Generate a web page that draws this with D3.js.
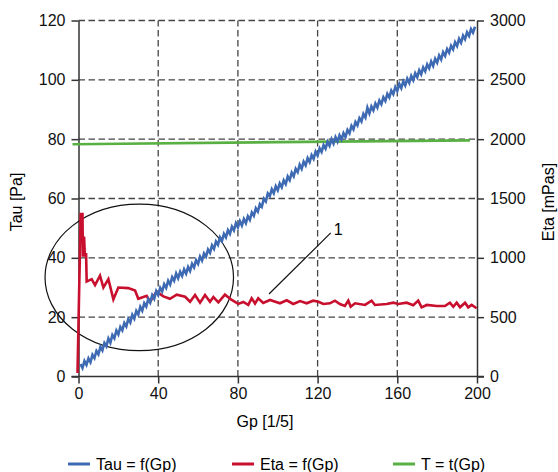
<!DOCTYPE html>
<html>
<head>
<meta charset="utf-8">
<script src="https://cdn.jsdelivr.net/npm/d3@7"></script>
<style>
  body { margin: 0; background: #fff; }
  svg { display: block; font-family: "Liberation Sans", Arial, sans-serif; }
</style>
</head>
<body>
<svg id="chart" width="558" height="472"></svg>
<script>
// Tau [Pa] read at Gp = 1, 2, ..., 199
const tauGp = d3.range(1, 200);
const tauValues = [
  4.2, 2.9, 5.2, 3.9, 6.1, 4.8, 7.3, 6.2, 8.6, 7.5,
  10.0, 8.8, 11.3, 10.2, 12.8, 11.4, 14.0, 12.9, 15.5, 14.2,
  16.7, 15.6, 18.0, 16.9, 19.4, 18.2, 20.8, 19.5, 22.1, 20.9,
  23.5, 22.2, 24.7, 23.6, 26.1, 24.9, 27.4, 26.2, 28.8, 27.5,
  29.9, 28.7, 31.1, 29.9, 32.3, 31.0, 33.5, 32.3, 34.7, 33.1,
  35.3, 33.9, 36.1, 34.7, 36.9, 35.6, 38.0, 36.8, 39.2, 38.0,
  40.4, 39.1, 41.5, 40.4, 42.8, 41.7, 44.2, 43.0, 45.5, 44.4,
  46.9, 45.7, 48.1, 46.9, 49.3, 48.1, 50.5, 49.3, 51.7, 50.3,
  52.4, 50.9, 53.1, 51.7, 54.0, 52.8, 55.3, 54.2, 56.7, 55.6,
  58.1, 57.2, 59.9, 59.0, 61.7, 60.8, 63.1, 61.8, 64.1, 62.8,
  65.1, 63.8, 66.1, 64.9, 67.4, 66.2, 68.7, 67.5, 70.0, 68.9,
  71.4, 70.0, 72.4, 71.2, 73.6, 72.3, 74.6, 73.4, 75.8, 74.5,
  76.9, 75.7, 78.0, 76.8, 79.1, 77.8, 80.0, 78.5, 80.7, 79.2,
  81.3, 79.9, 82.0, 80.7, 83.1, 82.0, 84.5, 83.3, 85.8, 84.7,
  87.1, 86.0, 88.5, 87.3, 90.6, 88.7, 91.0, 89.7, 92.0, 90.7,
  93.0, 91.8, 94.1, 92.9, 95.3, 94.1, 96.4, 95.2, 97.6, 96.3,
  98.6, 97.2, 99.5, 98.1, 100.4, 99.0, 101.3, 99.9, 102.2, 100.9,
  103.2, 101.9, 104.2, 102.9, 105.2, 103.9, 106.2, 104.7, 107.1, 105.8,
  108.2, 106.9, 109.3, 108.1, 110.4, 109.2, 111.5, 110.3, 112.7, 111.4,
  113.8, 112.5, 114.9, 113.7, 116.0, 114.8, 117.1, 115.9, 117.9
];

// Eta [mPas]
const etaGp = [
  -0.5, 1.1, 2.0, 2.2, 2.8, 3.2, 3.8, 4.1, 6.6, 8.3,
  10.8, 12.5, 15.0, 17.5, 20.0, 25.0, 28.4, 30.0, 34.2, 35.9,
  39.2, 42.6, 45.9, 49.3, 53.5, 56.0, 58.5, 61.0, 63.5, 66.0,
  67.7, 70.2, 73.5, 76.9, 80.2, 82.7, 85.2, 86.9, 88.6, 90.2,
  92.7, 96.1, 101.1, 104.5, 107.8, 111.2, 114.5, 117.8, 120.4, 122.9,
  126.2, 128.7, 131.2, 133.7, 135.4, 136.6, 138.8, 143.8, 147.1, 148.8,
  154.7, 158.0, 160.5, 164.7, 168.0, 170.5, 172.2, 174.8, 179.8, 183.9,
  186.4, 188.1, 189.8, 191.5, 194.0, 195.6, 197.3, 199.8
];
const etaValues = [
  30, 1370, 1370, 1010, 1180, 1010, 1040, 800, 820, 770,
  850, 750, 820, 650, 750, 745, 725, 655, 680, 630,
  715, 675, 655, 690, 672, 630, 687, 622, 687, 630,
  670, 625, 690, 645, 612, 628, 603, 659, 615, 659,
  620, 645, 617, 642, 611, 636, 617, 639, 630, 611,
  617, 639, 611, 594, 639, 588, 617, 603, 639, 603,
  611, 622, 611, 622, 600, 639, 583, 603, 594, 594,
  622, 588, 622, 583, 622, 583, 603, 575
];

// T, plotted against the left axis
const tGp = [-3, 100, 196.5];
const tValues = [78.3, 79.0, 79.6];

const xTicks = [0, 40, 80, 120, 160, 200];
const tauTicks = [0, 20, 40, 60, 80, 100, 120];
const etaTicks = [0, 500, 1000, 1500, 2000, 2500, 3000];

const legendItems = ['Tau = f(Gp)', 'Eta = f(Gp)', 'T = t(Gp)'];
const colors = ['#3d6ab3', '#c8102e', '#59b042'];

// annotation, in data units (Gp, Tau)
const ring = { cx: 30.5, cy: 33.4, rx: 47.3, ry: 24.7 };
const pointer = { x1: 95.6, y1: 27.8, x2: 126.6, y2: 48.4, label: '1' };

const svg = d3.select('#chart');
const plot = { left: 78.5, right: 477, top: 20.5, bottom: 376.5 };
const tick = 7;

const x = d3.scaleLinear().domain([0, 200]).range([plot.left, plot.right]);
const y = d3.scaleLinear().domain([0, 120]).range([plot.bottom, plot.top]);
const yEta = d3.scaleLinear().domain([0, 3000]).range([plot.bottom, plot.top]);

// grid
const grid = svg.append('g')
  .attr('stroke', '#444')
  .attr('stroke-width', 1.3)
  .attr('stroke-dasharray', '6.5,3.5');
grid.selectAll('.h')
  .data(tauTicks.filter(d => d > 0))
  .enter().append('line')
  .attr('x1', x(0)).attr('x2', x(200))
  .attr('y1', d => y(d)).attr('y2', d => y(d));
grid.selectAll('.v')
  .data(xTicks.filter(d => d > 0 && d < 200))
  .enter().append('line')
  .attr('x1', d => x(d)).attr('x2', d => x(d))
  .attr('y1', y(0)).attr('y2', y(120));

// axes
const axisStyle = g => {
  g.selectAll('line, path').attr('stroke', '#333').attr('stroke-width', 1.5);
  g.selectAll('text').attr('fill', '#111').style('font-size', '16px');
};

svg.append('g')
  .attr('transform', `translate(${plot.left},0)`)
  .call(d3.axisLeft(y).tickValues(tauTicks).tickSize(tick).tickSizeOuter(0).tickPadding(6))
  .call(axisStyle);

svg.append('g')
  .attr('transform', `translate(${plot.right},0)`)
  .call(d3.axisRight(yEta).tickValues(etaTicks).tickFormat(d3.format('d'))
    .tickSize(tick).tickSizeOuter(0).tickPadding(6))
  .call(axisStyle);

const xAxis = svg.append('g')
  .attr('transform', `translate(0,${plot.bottom})`)
  .call(d3.axisBottom(x).tickValues(xTicks).tickSize(tick).tickSizeOuter(0).tickPadding(4))
  .call(axisStyle);
xAxis.select('.domain').remove();
xAxis.append('line')
  .attr('x1', plot.left - tick).attr('x2', plot.right + tick)
  .attr('stroke', '#333').attr('stroke-width', 1.5);

// axis titles
svg.append('text')
  .attr('transform', 'translate(22,202) rotate(-90)')
  .attr('text-anchor', 'middle')
  .style('font-size', '16px')
  .text('Tau [Pa]');
svg.append('text')
  .attr('transform', 'translate(554,202) rotate(-90)')
  .attr('text-anchor', 'middle')
  .style('font-size', '16px')
  .text('Eta [mPas]');
svg.append('text')
  .attr('x', 265).attr('y', 427)
  .attr('text-anchor', 'middle')
  .style('font-size', '16px')
  .text('Gp [1/5]');

// annotation
svg.append('ellipse')
  .attr('cx', x(ring.cx)).attr('cy', y(ring.cy))
  .attr('rx', x(ring.rx) - x(0)).attr('ry', y(0) - y(ring.ry))
  .attr('fill', 'none').attr('stroke', '#111').attr('stroke-width', 1.2);
svg.append('line')
  .attr('x1', x(pointer.x1)).attr('y1', y(pointer.y1))
  .attr('x2', x(pointer.x2)).attr('y2', y(pointer.y2))
  .attr('stroke', '#111').attr('stroke-width', 1.2);
svg.append('text')
  .attr('x', x(pointer.x2) + 3).attr('y', y(pointer.y2) + 2)
  .style('font-size', '16px')
  .text(pointer.label);

// series
const line = (xs, ys, yScale) => d3.line()
  .x((d, i) => x(xs[i]))
  .y(d => yScale(d))(ys);

svg.append('path')
  .attr('d', line(tGp, tValues, y))
  .attr('fill', 'none').attr('stroke', colors[2]).attr('stroke-width', 2.6);
svg.append('path')
  .attr('d', line(etaGp, etaValues, yEta))
  .attr('fill', 'none').attr('stroke', colors[1]).attr('stroke-width', 2.6);
svg.append('path')
  .attr('d', line(tauGp, tauValues, y))
  .attr('fill', 'none').attr('stroke', colors[0]).attr('stroke-width', 2.6);

// legend
const legendX = [68, 232, 393];
const legend = svg.selectAll('.legend')
  .data(legendItems)
  .enter().append('g')
  .attr('class', 'legend')
  .attr('transform', (d, i) => `translate(${legendX[i]},464)`);
legend.append('line')
  .attr('x1', 0).attr('x2', 22)
  .attr('stroke', (d, i) => colors[i]).attr('stroke-width', 3);
legend.append('text')
  .attr('x', 28).attr('y', 0)
  .attr('dy', '0.35em')
  .style('font-size', '16px')
  .text(d => d);
</script>
</body>
</html>
